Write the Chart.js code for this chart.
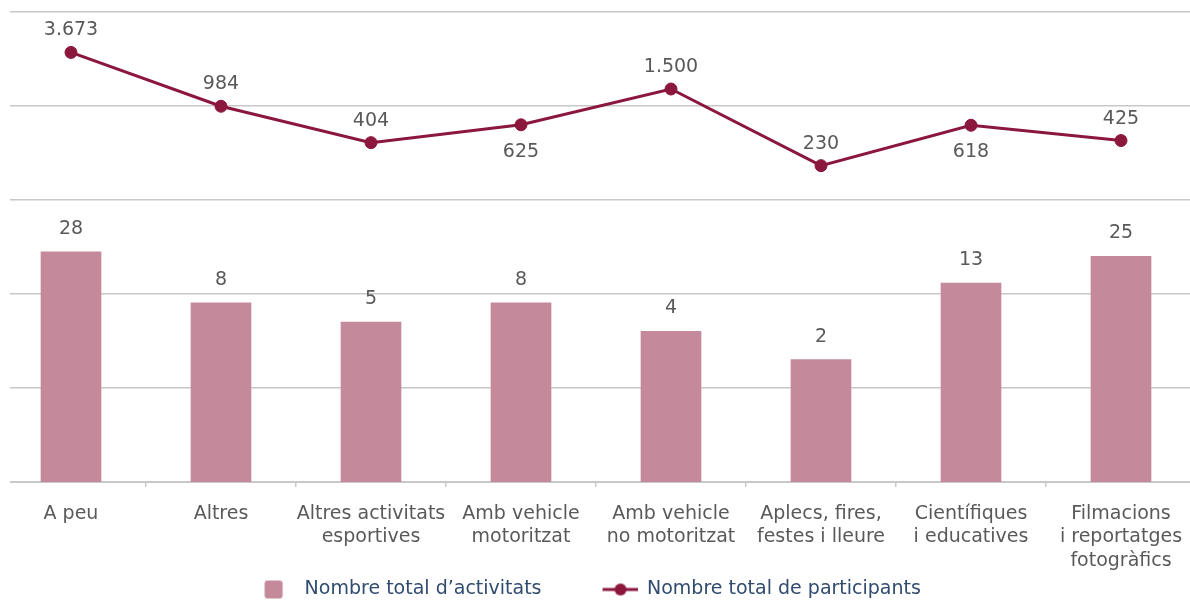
<!DOCTYPE html>
<html>
<head>
<meta charset="utf-8">
<script src="https://cdn.jsdelivr.net/npm/chart.js@4.4.0/dist/chart.umd.min.js"></script>
<style>
html, body { margin: 0; padding: 0; background: #fff; overflow: hidden; width: 1190px; height: 601px; }
#wrap { position: absolute; left: -84px; top: 0; width: 1294px; height: 609px; }
</style>
</head>
<body>
<div id="wrap"><canvas id="chart"></canvas></div>
<script>
var categories = [
  ["A peu"],
  ["Altres"],
  ["Altres activitats", "esportives"],
  ["Amb vehicle", "motoritzat"],
  ["Amb vehicle", "no motoritzat"],
  ["Aplecs, fires,", "festes i lleure"],
  ["Científiques", "i educatives"],
  ["Filmacions", "i reportatges", "fotogràfics"]
];
var activitats = [28, 8, 5, 8, 4, 2, 13, 25];
var participants = [3673, 984, 404, 625, 1500, 230, 618, 425];
var gridTicks = [0.1, 1, 10, 100, 1000, 10000];
var labelsBelow = [3, 6];

var barColor = "#c4899a";
var lineColor = "#8b173d";
var textColor = "#595959";
var fontFam = "Verdana, 'DejaVu Sans', sans-serif";

function fmt(v) {
  return String(v).replace(/\B(?=(\d{3})+(?!\d))/g, ".");
}

// legend symbols drawn as small canvases
function barSymbol() {
  var c = document.createElement("canvas");
  c.width = 88; c.height = 20;
  var g = c.getContext("2d");
  g.fillStyle = barColor;
  g.beginPath();
  g.roundRect(57.5, 1, 18, 18, 3);
  g.fill();
  return c;
}
function lineSymbol() {
  var c = document.createElement("canvas");
  c.width = 88; c.height = 20;
  var g = c.getContext("2d");
  g.strokeStyle = lineColor;
  g.lineWidth = 3;
  g.beginPath();
  g.moveTo(53, 10); g.lineTo(88, 10);
  g.stroke();
  g.fillStyle = lineColor;
  g.beginPath();
  g.arc(71, 10, 6, 0, Math.PI * 2);
  g.fill();
  return c;
}

var clipLeft = {
  id: "clipLeft",
  beforeDraw: function(chart) {
    var ctx = chart.ctx;
    ctx.save();
    ctx.beginPath();
    ctx.rect(94, 0, chart.width, chart.height);
    ctx.clip();
  },
  afterDraw: function(chart) {
    chart.ctx.restore();
  }
};

var valueLabels = {
  id: "valueLabels",
  afterDatasetsDraw: function(chart) {
    var ctx = chart.ctx;
    ctx.save();
    ctx.font = "19px " + fontFam;
    ctx.fillStyle = textColor;
    ctx.textAlign = "center";
    ctx.textBaseline = "middle";
    chart.getDatasetMeta(0).data.forEach(function(el, i) {
      ctx.fillText(fmt(participants[i]), el.x, labelsBelow.indexOf(i) >= 0 ? el.y + 27 : el.y - 22);
    });
    chart.getDatasetMeta(1).data.forEach(function(el, i) {
      ctx.fillText(fmt(activitats[i]), el.x, el.y - 23);
    });
    ctx.restore();
  }
};

new Chart(document.getElementById("chart"), {
  type: "bar",
  data: {
    labels: categories,
    datasets: [
      {
        label: "Nombre total de participants",
        type: "line",
        data: participants,
        borderColor: lineColor,
        backgroundColor: lineColor,
        borderWidth: 3,
        pointRadius: 6,
        pointBorderWidth: 1,
        pointBackgroundColor: lineColor,
        tension: 0,
        order: 0
      },
      {
        label: "Nombre total d\u2019activitats",
        type: "bar",
        data: activitats,
        backgroundColor: barColor,
        barThickness: 60,
        order: 1
      }
    ]
  },
  options: {
    animation: false,
    responsive: true,
    maintainAspectRatio: false,
    layout: { padding: { left: 16, right: 14, top: 11.5, bottom: 0 } },
    plugins: {
      tooltip: { enabled: false },
      legend: {
        position: "bottom",
        labels: {
          usePointStyle: true,
          pointStyleWidth: 88,
          boxHeight: 19,
          padding: 8,
          color: "#2f4b6e",
          font: { size: 19, family: fontFam },
          generateLabels: function(chart) {
            return [
              { text: "Nombre total d\u2019activitats", pointStyle: barSymbol(), fillStyle: barColor, strokeStyle: barColor, lineWidth: 0, fontColor: "#2f4b6e", datasetIndex: 1 },
              { text: "Nombre total de participants", pointStyle: lineSymbol(), fillStyle: lineColor, strokeStyle: lineColor, lineWidth: 0, fontColor: "#2f4b6e", datasetIndex: 0 }
            ];
          }
        }
      }
    },
    scales: {
      x: {
        offset: true,
        afterFit: function(scale) { scale.height = 90; },
        grid: { offset: true, drawOnChartArea: false, drawTicks: true, tickLength: 5, color: "#c8c8c8", lineWidth: 1.5 },
        border: { color: "#c8c8c8", width: 2 },
        ticks: {
          color: textColor,
          padding: 15,
          maxRotation: 0,
          autoSkip: false,
          font: { size: 19, family: fontFam, lineHeight: 1.24 }
        }
      },
      y: {
        type: "logarithmic",
        min: 0.1,
        max: 10000,
        afterFit: function(scale) { scale.width = 64; },
        afterBuildTicks: function(scale) {
          scale.ticks = gridTicks.map(function(v) { return { value: v }; });
        },
        grid: { color: "#c8c8c8", lineWidth: 1.5, drawTicks: false },
        border: { display: false },
        ticks: { display: false }
      }
    }
  },
  plugins: [clipLeft, valueLabels]
});
</script>
</body>
</html>
